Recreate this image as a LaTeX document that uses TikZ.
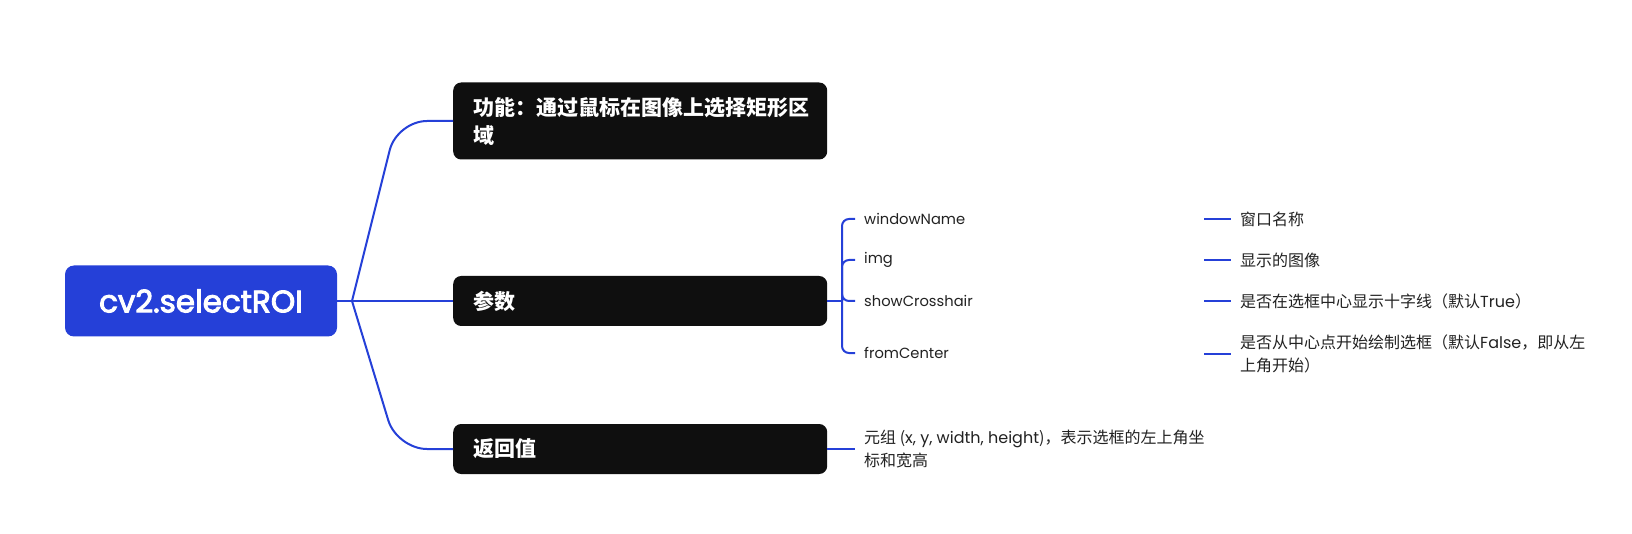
\documentclass[tikz,border=0pt]{standalone}
\usepackage{fontspec}
\setmainfont{Noto Sans CJK SC}
\newfontfamily\latf{Poppins}
\newfontfamily\raizf{Poppins}[FakeBold=3]
\usetikzlibrary{positioning}
\definecolor{corAzul}{HTML}{2540D8}
\definecolor{corPreto}{HTML}{0F0F0F}
\definecolor{corTexto}{HTML}{222222}
\tikzset{
  raiz/.style={fill=corAzul, rounded corners=9pt, text=white,
    font=\raizf\fontsize{31}{36}\selectfont,
    minimum width=272pt, minimum height=71pt},
  ramo/.style={fill=corPreto, rounded corners=8pt, text=white, anchor=west,
    font=\bfseries\fontsize{21}{28}\selectfont, align=left,
    text width=334pt, inner xsep=20pt, minimum height=50pt},
  folha/.style={anchor=west, inner xsep=9pt, inner ysep=2pt, text=corTexto,
    font=\fontsize{16}{23}\selectfont, align=left},
  nome/.style={folha, font=\latf\fontsize{14.7}{23}\selectfont},
  liga/.style={draw=corAzul, line width=2pt},
}

\begin{document}
\begin{tikzpicture}[x=1pt, y=-1pt]
  \path[use as bounding box, fill=white] (0,0) rectangle (1632,534);

  % raiz e ramos
  \node[raiz] (raiz) at (201,301) {cv2.selectROI};
  \node[ramo, minimum height=77pt] (funcao) at (453,121) {功能：通过鼠标在图像上选择矩形区\\域};
  \node[ramo] (param) at (453,301) {参数};
  \node[ramo] (retorno) at (453,449) {返回值};

  \coordinate (garfo) at (352,301);
  \draw[liga] (raiz.east) -- (garfo);
  \draw[liga, rounded corners=30pt] (garfo) -- (397,121) -- (funcao.west);
  \draw[liga] (garfo) -- (param.west);
  \draw[liga, rounded corners=30pt] (garfo) -- (397,449) -- (retorno.west);

  % parametros
  \node[nome] (janela) at (855,219) {windowName};
  \node[nome] (imagem) at (855,260) {img};
  \node[nome] (mira) at (855,301) {showCrosshair};
  \node[nome] (centro) at (855,353) {fromCenter};

  \coordinate (chave) at (842,301);
  \draw[liga] (param.east) -- (chave);
  \foreach \filho in {janela, imagem, mira, centro}
    \draw[liga, rounded corners=7pt] (chave) |- (\filho.west);

  % descricoes
  \node[folha] (d1) at (1231,219) {窗口名称};
  \node[folha] (d2) at (1231,260) {显示的图像};
  \node[folha] (d3) at (1231,301) {是否在选框中心显示十字线（默认{\latf True}）};
  \node[folha] (d4) at (1231,354) {是否从中心点开始绘制选框（默认{\latf False}，即从左\\上角开始）};
  \foreach \d in {1,...,4} {
    \coordinate[left=27pt of d\d] (s\d);
    \draw[liga] (s\d) -- (d\d.west);
  }

  % retorno
  \node[folha] (tupla) at (855,449) {元组 ({\latf x, y, width, height})，表示选框的左上角坐\\标和宽高};
  \draw[liga] (retorno.east) -- (tupla.west);
\end{tikzpicture}
\end{document}
